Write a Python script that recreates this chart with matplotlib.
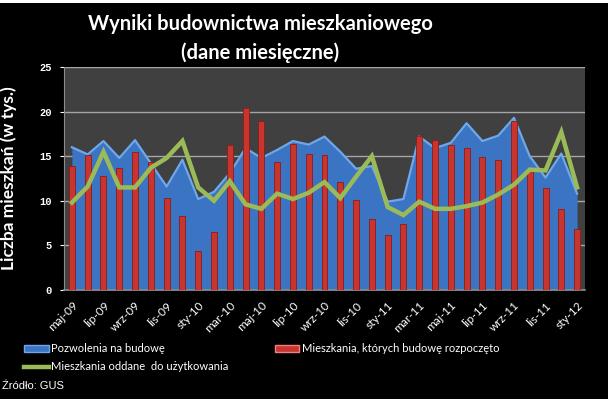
import matplotlib
matplotlib.use("Agg")
import matplotlib.pyplot as plt
import numpy as np
from matplotlib.patches import Patch, Rectangle
from matplotlib.lines import Line2D

miesiace = ["maj-09", "cze-09", "lip-09", "sie-09", "wrz-09", "paź-09", "lis-09", "gru-09",
            "sty-10", "lut-10", "mar-10", "kwi-10", "maj-10", "cze-10", "lip-10", "sie-10",
            "wrz-10", "paź-10", "lis-10", "gru-10", "sty-11", "lut-11", "mar-11", "kwi-11",
            "maj-11", "cze-11", "lip-11", "sie-11", "wrz-11", "paź-11", "lis-11", "gru-11",
            "sty-12"]

pozwolenia = [16.0, 15.2, 16.7, 14.8, 16.8, 14.2, 11.6, 14.6, 10.2, 11.0, 13.1, 15.9,
              14.8, 15.7, 16.7, 16.3, 17.2, 15.5, 13.6, 13.9, 9.9, 10.2, 17.2, 15.9,
              16.5, 18.7, 16.7, 17.3, 19.3, 15.0, 12.6, 15.3, 10.8]
rozpoczete = [13.9, 15.1, 12.8, 13.7, 15.5, 14.3, 10.3, 8.3, 4.4, 6.5, 16.2, 20.4,
              18.9, 14.4, 16.4, 15.2, 15.1, 12.1, 10.1, 8.0, 6.2, 7.4, 17.3, 16.8,
              16.3, 15.9, 14.9, 14.6, 18.9, 13.3, 11.4, 9.1, 6.8]
oddane = [9.8, 11.6, 15.5, 11.5, 11.5, 13.7, 14.8, 16.7, 11.5, 10.0, 12.2, 9.6,
          9.1, 10.8, 10.2, 10.9, 12.1, 10.3, 12.7, 15.0, 9.3, 8.4, 9.9, 9.1,
          9.1, 9.4, 9.8, 10.7, 11.8, 13.5, 13.4, 17.7, 11.5]

x = np.arange(len(miesiace))

fig = plt.figure(figsize=(6.08, 3.99), dpi=100, facecolor="black")
ax = fig.add_axes([64 / 608, 1 - 290 / 399, (585 - 64) / 608, (290 - 67) / 399])
ax.set_facecolor("#404040")

# pas na gorze obrazka
fig.patches.append(Rectangle((0, 1 - 3 / 399), 1, 3 / 399, transform=fig.transFigure,
                             facecolor="white", edgecolor="none", zorder=0))

# pozwolenia - wykres warstwowy
ax.fill_between(x, pozwolenia, 0, color="#3a74c2", zorder=2, linewidth=0)
ax.plot(x, pozwolenia, color="#6ea8ea", linewidth=1.6, zorder=2.5)

# rozpoczete - slupki
ax.bar(x, rozpoczete, width=0.38, color="#c8352f", edgecolor="#8a1d1a", linewidth=0.6, zorder=3)

# oddane - linia
ax.plot(x, oddane, color="#9bbb59", linewidth=3.2, solid_joinstyle="miter", zorder=4)

ax.set_xlim(-0.5, len(x) - 0.5)
ax.set_ylim(0, 25)
ax.set_yticks([0, 5, 10, 15, 20, 25])
ax.yaxis.grid(True, color="#a6a6a6", linewidth=1, zorder=1)
ax.set_axisbelow(True)

for s in ["top", "right"]:
    ax.spines[s].set_visible(False)
ax.spines["left"].set_color("#8c8c8c")
ax.spines["bottom"].set_color("#8c8c8c")
ax.spines["bottom"].set_linewidth(1.2)

ax.tick_params(axis="y", colors="white", length=3, width=0.8, labelsize=7.5, pad=6)
for lab in ax.get_yticklabels():
    lab.set_family("Liberation Mono")
    lab.set_fontweight("bold")

ax.set_xticks(x[::2])
ax.set_xticklabels(miesiace[::2], rotation=45, ha="right", rotation_mode="anchor",
                   color="white", fontsize=8.5, family="Lato")
ax.tick_params(axis="x", length=0, pad=7)

ax.set_ylabel("Liczba mieszkań (w tys.)", color="white", fontsize=12.5,
              fontweight="bold", family="Lato", labelpad=14)
ax.yaxis.set_label_coords(-0.09, 0.5)

fig.text(0.428, 1 - 24 / 399, "Wyniki budownictwa mieszkaniowego", color="white",
         fontsize=14.5, fontweight="bold", family="Lato", ha="center", va="center")
fig.text(0.428, 1 - 53 / 399, "(dane miesięczne)", color="white",
         fontsize=14.5, fontweight="bold", family="Lato", ha="center", va="center")

handles = [Patch(facecolor="#3a74c2", edgecolor="#6ea8ea"),
           Line2D([0], [0], color="#9bbb59", linewidth=3.2),
           Patch(facecolor="#c8352f", edgecolor="#f08080")]
labels = ["Pozwolenia na budowę", "Mieszkania oddane  do użytkowania",
          "Mieszkania, których budowę rozpoczęto"]
leg = fig.legend(handles, labels, ncol=2, loc="upper left", bbox_to_anchor=(0.04, 0.14),
                 frameon=False, labelcolor="white", handlelength=2.2,
                 handleheight=0.6, handletextpad=0.2, columnspacing=4.2, labelspacing=0.65,
                 borderaxespad=0, borderpad=0, prop={"family": "Lato", "size": 8})

fig.text(0.004, 1 - 386 / 399, "Źródło: GUS", color="white", fontsize=8,
         family="Liberation Sans", va="center", ha="left")

fig.savefig("out.png", dpi=100, facecolor="black")
